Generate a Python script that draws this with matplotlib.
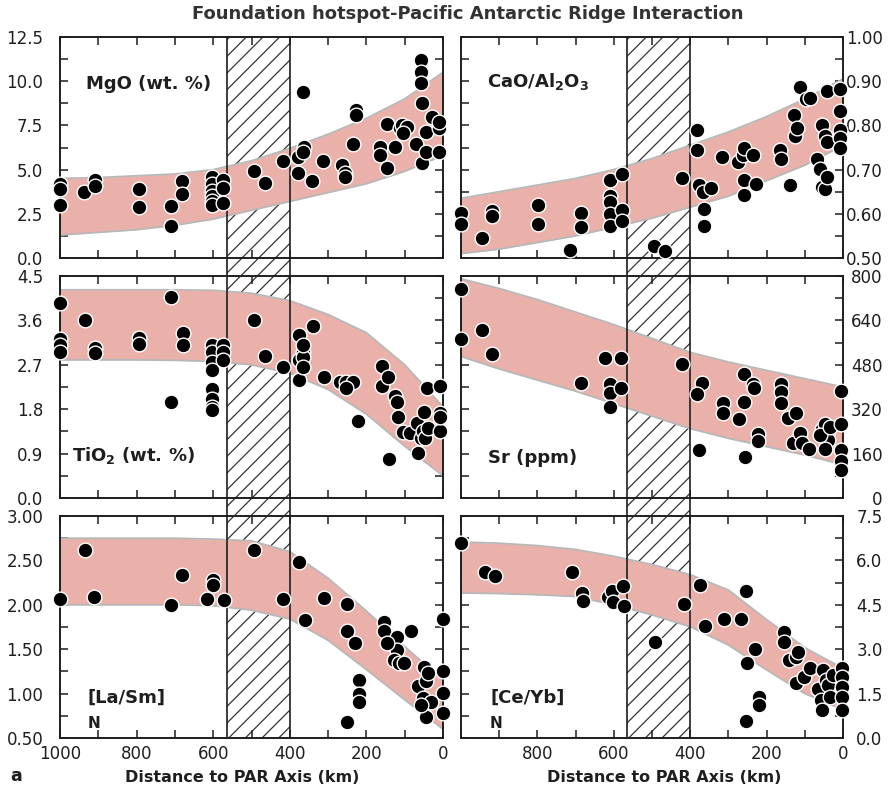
import numpy as np
import matplotlib
matplotlib.use("Agg")
import matplotlib.pyplot as plt
from matplotlib.patches import Rectangle
from matplotlib.ticker import MultipleLocator, FixedLocator, FuncFormatter

plt.rcParams['font.family'] = ['DejaVu Sans']
plt.rcParams['hatch.linewidth'] = 0.9

# ---- data ----
band_dist = [1000, 900, 800, 700, 600, 500, 400, 300, 200, 100, 0]

mgo_dist = [1000, 1000, 1000, 937, 908, 908, 793, 793, 710, 710, 682, 682,
            604, 604, 604, 604, 604, 604, 575, 575, 575, 493, 466, 419, 366,
            378, 378, 363, 365, 343, 314, 265, 256, 256, 234, 227, 227, 164,
            164, 147, 147, 125, 112, 108, 95, 104, 70, 58, 58, 58, 56, 56,
            44, 44, 30, 10, 10, 10]
mgo_val = [4.2, 3.9, 3.0, 3.75, 4.4, 4.1, 3.88, 2.9, 2.94, 1.8, 4.37, 3.62,
           4.6, 4.2, 3.8, 3.5, 3.2, 3.0, 4.4, 3.94, 3.1, 4.94, 4.26, 5.5, 9.4,
           5.73, 4.79, 6.3, 6.0, 4.35, 5.47, 5.26, 4.79, 4.6, 6.45, 8.37, 8.1,
           6.3, 5.83, 7.56, 5.07, 6.3, 7.33, 7.5, 7.43, 7.05, 6.45, 11.2,
           10.54, 9.88, 8.75, 5.35, 6.0, 7.15, 8.0, 7.33, 6.0, 7.7]
mgo_upper = [4.5, 4.55, 4.65, 4.75, 5.0, 5.5, 6.2, 7.0, 7.9, 9.0, 10.5]
mgo_lower = [1.3, 1.45, 1.6, 1.85, 2.2, 2.7, 3.2, 3.7, 4.2, 4.9, 5.8]

cao_dist = [1000, 1000, 946, 920, 920, 799, 799, 714, 685, 685, 609, 609,
            609, 609, 609, 578, 578, 578, 495, 466, 422, 381, 381, 378, 367,
            346, 363, 365, 317, 275, 262, 258, 236, 260, 258, 227, 164, 161,
            139, 129, 126, 120, 113, 96, 87, 43, 69, 61, 56, 47, 43, 56, 47,
            43, 8, 8, 8, 8, 8]
cao_val = [0.601, 0.576, 0.546, 0.607, 0.595, 0.62, 0.578, 0.519, 0.601,
           0.571, 0.676, 0.641, 0.626, 0.599, 0.573, 0.691, 0.609, 0.584,
           0.528, 0.515, 0.681, 0.79, 0.744, 0.666, 0.649, 0.658, 0.611,
           0.573, 0.729, 0.718, 0.733, 0.748, 0.733, 0.676, 0.642, 0.668,
           0.744, 0.725, 0.666, 0.824, 0.775, 0.794, 0.886, 0.859, 0.863,
           0.878, 0.725, 0.702, 0.66, 0.656, 0.683, 0.8, 0.777, 0.763,
           0.882, 0.832, 0.79, 0.771, 0.748]
cao_upper = [0.635, 0.65, 0.665, 0.68, 0.70, 0.725, 0.755, 0.785, 0.82, 0.86, 0.905]
cao_lower = [0.51, 0.52, 0.535, 0.55, 0.57, 0.59, 0.615, 0.64, 0.675, 0.71, 0.755]

ti_dist = [1000, 1000, 1000, 1000, 935, 909, 909, 793, 793, 710, 710, 680,
           680, 602, 602, 602, 602, 602, 602, 602, 602, 575, 575, 575, 493,
           465, 419, 375, 375, 375, 365, 365, 365, 365, 340, 312, 270, 252,
           234, 252, 221, 158, 158, 143, 140, 125, 121, 117, 104, 86, 69, 64,
           58, 53, 47, 50, 43, 38, 8, 8, 8, 8]
ti_val = [3.96, 3.22, 3.1, 2.95, 3.6, 3.05, 2.94, 3.25, 3.12, 4.08, 1.94,
          3.35, 3.1, 3.1, 2.95, 2.75, 2.6, 2.2, 2.0, 1.85, 1.78, 3.1, 2.96,
          2.8, 3.6, 2.88, 2.65, 3.3, 2.8, 2.39, 2.96, 2.86, 2.66, 3.1, 3.48,
          2.46, 2.36, 2.36, 2.36, 2.22, 1.57, 2.68, 2.27, 2.46, 0.79, 2.06,
          1.95, 1.65, 1.33, 1.31, 1.52, 0.91, 1.21, 1.35, 1.21, 1.75, 2.22,
          1.42, 2.27, 1.73, 1.35, 1.65]
ti_upper = [4.22, 4.22, 4.22, 4.22, 4.21, 4.15, 4.0, 3.72, 3.35, 2.7, 1.85]
ti_lower = [2.8, 2.8, 2.8, 2.79, 2.77, 2.7, 2.53, 2.2, 1.7, 1.05, 0.45]

sr_dist = [1000, 1000, 945, 920, 685, 624, 609, 609, 609, 580, 580, 422,
           368, 381, 378, 315, 315, 271, 260, 258, 256, 236, 232, 223, 223,
           161, 161, 161, 144, 124, 131, 113, 108, 89, 56, 47, 43, 39, 47,
           61, 34, 4, 4, 4, 4, 4]
sr_val = [754, 574, 604, 518, 413, 506, 411, 379, 329, 506, 398, 483, 416,
          375, 174, 341, 305, 284, 447, 347, 147, 411, 395, 232, 205, 411,
          383, 343, 290, 305, 198, 234, 198, 178, 250, 268, 232, 208, 178,
          226, 256, 387, 266, 174, 135, 102]
sr_upper = [790, 755, 715, 670, 625, 575, 525, 490, 460, 430, 400]
sr_lower = [510, 465, 425, 385, 340, 295, 250, 215, 185, 155, 120]

la_dist = [1000, 936, 912, 711, 682, 617, 601, 601, 573, 494, 417, 375, 360,
           310, 250, 250, 231, 219, 219, 219, 250, 155, 155, 120, 120, 145,
           127, 114, 101, 83, 66, 53, 50, 44, 31, 39, 44, 57, 0, 0, 0, 0]
la_val = [2.07, 2.62, 2.09, 2.0, 2.33, 2.07, 2.28, 2.22, 2.05, 2.62, 2.06,
          2.48, 1.83, 2.08, 2.01, 1.7, 1.57, 1.15, 1.0, 0.91, 0.68, 1.81, 1.7,
          1.64, 1.49, 1.57, 1.38, 1.35, 1.35, 1.7, 1.08, 0.95, 1.3, 1.14,
          0.91, 1.23, 0.74, 0.87, 1.84, 1.25, 1.01, 0.78]
la_upper = [2.75, 2.75, 2.75, 2.75, 2.74, 2.72, 2.6, 2.3, 1.93, 1.53, 1.15]
la_lower = [2.0, 2.0, 2.0, 2.0, 1.99, 1.94, 1.84, 1.6, 1.27, 0.93, 0.6]

ce_dist = [1000, 938, 912, 709, 682, 681, 615, 606, 602, 576, 572, 491, 417,
           375, 360, 312, 268, 253, 251, 231, 220, 220, 253, 155, 155, 141,
           124, 124, 118, 103, 87, 65, 57, 52, 44, 39, 35, 54, 26, 3, 3, 3,
           3, 3]
ce_val = [6.59, 5.6, 5.46, 5.61, 4.89, 4.64, 4.78, 4.98, 4.61, 5.14, 4.46,
          3.25, 4.53, 5.18, 3.78, 4.01, 4.01, 4.97, 2.55, 3.02, 1.38, 1.13,
          0.57, 3.59, 3.25, 2.63, 2.74, 1.86, 2.91, 2.06, 2.35, 1.67, 1.27,
          2.29, 1.95, 1.78, 1.38, 0.93, 2.12, 2.35, 2.06, 1.72, 1.38, 0.95]
ce_upper = [6.62, 6.58, 6.5, 6.37, 6.14, 5.86, 5.52, 5.0, 4.0, 3.05, 2.35]
ce_lower = [4.9, 4.88, 4.84, 4.78, 4.5, 4.16, 3.76, 3.14, 2.3, 1.5, 0.95]

# hatched zone (km)
zone = (400, 565)

PINK = '#e9b1a9'
INK = '#1e1e1e'

W, H = 894, 791
fig = plt.figure(figsize=(W / 100, H / 100), dpi=100)

col_x = [(60, 383), (461, 382)]
row_y = [(37, 258), (276, 498), (516, 738)]


def make_ax(col, row):
    x0, w = col_x[col]
    top, bot = row_y[row]
    return fig.add_axes([x0 / W, (H - bot) / H, w / W, (bot - top) / H])


def panel(ax, dist, val, upper, lower, ylim, yticks, fmt, right, gap, bottom):
    ax.set_xlim(1000, 0)
    ax.set_ylim(*ylim)

    # hatched zone, continues through the gap under the panel
    tr = ax.get_xaxis_transform()
    ax.add_patch(Rectangle((zone[0], -gap), zone[1] - zone[0], 1 + gap,
                           transform=tr, facecolor='none', edgecolor='#333333',
                           hatch='//', linewidth=0, clip_on=False, zorder=1))
    for xz in zone:
        ax.plot([xz, xz], [-gap, 1], transform=tr, color=INK, lw=1.2,
                clip_on=False, zorder=2.5)

    ax.fill_between(band_dist, lower, upper, color=PINK, lw=0, zorder=2)
    ax.plot(band_dist, upper, color='#b8b8b8', lw=1.3, zorder=2.2)
    ax.plot(band_dist, lower, color='#b8b8b8', lw=1.3, zorder=2.2)

    ax.scatter(dist, val, s=112, c='black', edgecolors='white',
               linewidths=1.0, zorder=3, clip_on=False)

    ax.xaxis.set_major_locator(MultipleLocator(200))
    ax.xaxis.set_minor_locator(MultipleLocator(100))
    ax.yaxis.set_major_locator(FixedLocator(yticks))
    step = yticks[1] - yticks[0]
    ax.yaxis.set_minor_locator(FixedLocator([t + step / 2 for t in yticks[:-1]]))
    ax.yaxis.set_major_formatter(FuncFormatter(lambda v, p: fmt % v))
    if right:
        ax.xaxis.set_major_formatter(
            FuncFormatter(lambda v, p: '' if v > 999 else '%d' % v))
    else:
        ax.xaxis.set_major_formatter(FuncFormatter(lambda v, p: '%d' % v))

    ax.tick_params(which='both', direction='in', top=True, right=True,
                   length=5.5, width=1.1, colors=INK, labelsize=12)
    ax.tick_params(axis='x', pad=5, labelbottom=bottom)
    if right:
        # right-hand labels are right aligned near the figure edge
        ax.tick_params(axis='y', pad=28.5, labelleft=False, labelright=True)
        for tick in ax.yaxis.get_major_ticks():
            tick.label2.set_horizontalalignment('right')
    else:
        ax.tick_params(axis='y', pad=12)
    for s in ax.spines.values():
        s.set_linewidth(1.4)
        s.set_color(INK)
    ax.set_zorder(1 if not bottom else 0.5)

    if bottom:
        ax.set_xlabel('Distance to PAR Axis (km)', fontsize=11.5,
                      fontweight='bold', color=INK)
        ax.xaxis.set_label_coords(0.475 if not right else 0.531, -0.145)


gap = 18 / 221

ax1 = make_ax(0, 0)
panel(ax1, mgo_dist, mgo_val, mgo_upper, mgo_lower, (0, 12.5),
      [0, 2.5, 5, 7.5, 10, 12.5], '%.1f', False, gap, False)
ax1.text(0.068, 0.765, 'MgO (wt. %)', transform=ax1.transAxes, fontsize=13,
         fontweight='bold', color=INK, va='baseline', zorder=4)

ax2 = make_ax(1, 0)
panel(ax2, cao_dist, cao_val, cao_upper, cao_lower, (0.5, 1.0),
      [0.5, 0.6, 0.7, 0.8, 0.9, 1.0], '%.2f', True, gap, False)
ax2.text(0.068, 0.774, r'CaO/Al$_{\bf 2}$O$_{\bf 3}$', transform=ax2.transAxes,
         fontsize=13, fontweight='bold', color=INK, va='baseline', zorder=4)

ax3 = make_ax(0, 1)
panel(ax3, ti_dist, ti_val, ti_upper, ti_lower, (0, 4.5),
      [0, 0.9, 1.8, 2.7, 3.6, 4.5], '%.1f', False, gap, False)
ax3.text(0.031, 0.167, r'TiO$_{\bf 2}$ (wt. %)', transform=ax3.transAxes,
         fontsize=13, fontweight='bold', color=INK, va='baseline', zorder=4)

ax4 = make_ax(1, 1)
panel(ax4, sr_dist, sr_val, sr_upper, sr_lower, (0, 800),
      [0, 160, 320, 480, 640, 800], '%d', True, gap, False)
ax4.text(0.071, 0.158, 'Sr (ppm)', transform=ax4.transAxes, fontsize=13,
         fontweight='bold', color=INK, va='baseline', zorder=4)

ax5 = make_ax(0, 2)
panel(ax5, la_dist, la_val, la_upper, la_lower, (0.5, 3.0),
      [0.5, 1.0, 1.5, 2.0, 2.5, 3.0], '%.2f', False, 0, True)
ax5.text(0.073, 0.158, '[La/Sm]', transform=ax5.transAxes, fontsize=13,
         fontweight='bold', color=INK, va='baseline', zorder=4)
ax5.text(0.073, 0.045, 'N', transform=ax5.transAxes, fontsize=11,
         fontweight='bold', color=INK, va='baseline', zorder=4)

ax6 = make_ax(1, 2)
panel(ax6, ce_dist, ce_val, ce_upper, ce_lower, (0, 7.5),
      [0, 1.5, 3.0, 4.5, 6.0, 7.5], '%.1f', True, 0, True)
ax6.text(0.076, 0.158, '[Ce/Yb]', transform=ax6.transAxes, fontsize=13,
         fontweight='bold', color=INK, va='baseline', zorder=4)
ax6.text(0.076, 0.045, 'N', transform=ax6.transAxes, fontsize=11,
         fontweight='bold', color=INK, va='baseline', zorder=4)

fig.text(468 / W, 1 - 14 / H, 'Foundation hotspot-Pacific Antarctic Ridge Interaction',
         ha='center', va='center', fontsize=13, fontweight='bold', color='#333333')
fig.text(10 / W, 1 - 776 / H, 'a', ha='left', va='center', fontsize=12.5,
         fontweight='bold', color=INK)

fig.savefig('out.png', dpi=100)
